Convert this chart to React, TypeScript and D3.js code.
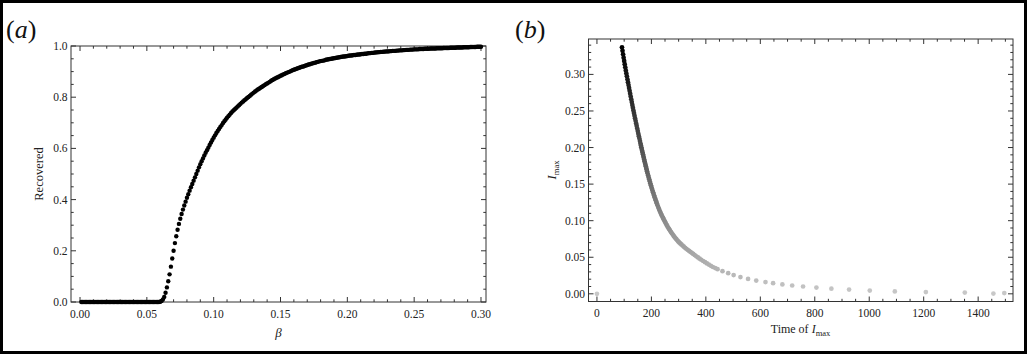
import React from 'react';
import * as d3 from 'd3';

// ---- panel (a): recovered fraction vs beta (beta = 0.001 ... 0.300, step 0.001)
const betaStep = 0.001;
const recovered = [
  0, 0, 0, 0, 0, 0, 0, 0, 0, 0,
  0, 0, 0, 0, 0, 0, 0, 0, 0, 0,
  0, 0, 0, 0, 0, 0, 0, 0, 0, 0,
  0, 0, 0, 0, 0, 0, 0, 0, 0, 0,
  0, 0, 0, 0, 0, 0, 0, 0, 0, 0,
  0, 0, 0, 0, 0, 0, 0, 0, 0, 0.001,
  0.004, 0.010, 0.020, 0.036, 0.057, 0.081, 0.108, 0.138, 0.170, 0.200,
  0.230, 0.257, 0.282, 0.305, 0.325, 0.344, 0.361, 0.377, 0.392, 0.407,
  0.421, 0.435, 0.448, 0.461, 0.474, 0.487, 0.500, 0.513, 0.526, 0.538,
  0.550, 0.561, 0.572, 0.583, 0.593, 0.603, 0.613, 0.623, 0.633, 0.642,
  0.651, 0.660, 0.668, 0.676, 0.684, 0.691, 0.699, 0.706, 0.713, 0.720,
  0.726, 0.732, 0.738, 0.744, 0.749, 0.754, 0.759, 0.764, 0.769, 0.774,
  0.779, 0.783, 0.788, 0.792, 0.797, 0.801, 0.805, 0.810, 0.814, 0.818,
  0.822, 0.826, 0.830, 0.833, 0.837, 0.840, 0.844, 0.847, 0.851, 0.854,
  0.857, 0.860, 0.864, 0.867, 0.870, 0.873, 0.876, 0.878, 0.881, 0.884,
  0.886, 0.889, 0.891, 0.894, 0.896, 0.898, 0.900, 0.903, 0.905, 0.907,
  0.909, 0.911, 0.913, 0.915, 0.917, 0.919, 0.920, 0.922, 0.924, 0.926,
  0.928, 0.929, 0.931, 0.932, 0.934, 0.935, 0.937, 0.938, 0.940, 0.941,
  0.942, 0.943, 0.944, 0.946, 0.947, 0.948, 0.949, 0.950, 0.951, 0.952,
  0.953, 0.954, 0.955, 0.956, 0.957, 0.958, 0.959, 0.959, 0.960, 0.961,
  0.962, 0.963, 0.963, 0.964, 0.965, 0.965, 0.966, 0.967, 0.967, 0.968,
  0.969, 0.969, 0.970, 0.970, 0.971, 0.972, 0.972, 0.973, 0.973, 0.974,
  0.975, 0.975, 0.976, 0.976, 0.977, 0.977, 0.978, 0.978, 0.979, 0.979,
  0.979, 0.980, 0.980, 0.981, 0.981, 0.981, 0.982, 0.982, 0.983, 0.983,
  0.983, 0.984, 0.984, 0.985, 0.985, 0.985, 0.986, 0.986, 0.986, 0.987,
  0.987, 0.987, 0.987, 0.988, 0.988, 0.988, 0.988, 0.989, 0.989, 0.989,
  0.989, 0.990, 0.990, 0.990, 0.990, 0.990, 0.991, 0.991, 0.991, 0.991,
  0.991, 0.992, 0.992, 0.992, 0.992, 0.992, 0.993, 0.993, 0.993, 0.993,
  0.993, 0.994, 0.994, 0.994, 0.994, 0.994, 0.995, 0.995, 0.995, 0.995,
  0.995, 0.996, 0.996, 0.996, 0.996, 0.996, 0.997, 0.997, 0.997, 0.997,
];
const betaTicks = [0, 0.05, 0.1, 0.15, 0.2, 0.25, 0.3];
const recTicks = [0, 0.2, 0.4, 0.6, 0.8, 1.0];

// ---- panel (b): peak infected vs time of the peak
const peakTime = [
  92, 94, 96, 98, 100, 102, 104, 106, 108, 110,
  112, 114, 116, 118, 120, 122, 124, 126, 128, 130,
  132, 134, 136, 138, 140, 142, 144, 146, 148, 150,
  152, 154, 156, 158, 160, 161.5, 163, 164.5, 166, 167.5,
  169, 170.5, 172, 173.5, 175, 176.5, 178, 179.5, 181, 182.5,
  184, 186, 188, 190, 192, 194, 196, 198, 200, 202,
  204, 206, 208, 210, 212, 214, 216, 218, 220, 222.5,
  225, 227.5, 230, 232.5, 235, 237.5, 240, 242.5, 245, 247.5,
  250, 253, 256, 259, 262, 265, 268, 271.5, 275, 278.5,
  282, 285, 288, 291.5, 295, 298.5, 302, 306, 310, 314.5,
  319, 323.5, 328, 333, 338, 343, 348, 353.5, 359, 365,
  371, 377, 383, 390, 397, 404, 411, 418.5, 426, 434.5,
  443, 461, 482, 502, 527, 555, 585, 619, 647, 681,
  717, 757, 806, 861, 926, 1002, 1094, 1208, 1351, 1456,
  1496, 0,
];
const peakI = [
  0.3370, 0.3322, 0.3275, 0.3229, 0.3184, 0.3140, 0.3097, 0.3055, 0.3014, 0.2974,
  0.2934, 0.2894, 0.2854, 0.2815, 0.2776, 0.2737, 0.2698, 0.2659, 0.2621, 0.2583,
  0.2545, 0.2508, 0.2471, 0.2435, 0.2400, 0.2365, 0.2330, 0.2295, 0.2260, 0.2225,
  0.2190, 0.2156, 0.2122, 0.2088, 0.2054, 0.2029, 0.2004, 0.1979, 0.1955, 0.1931,
  0.1907, 0.1883, 0.1859, 0.1835, 0.1812, 0.1789, 0.1766, 0.1743, 0.1721, 0.1699,
  0.1677, 0.1648, 0.1620, 0.1592, 0.1565, 0.1538, 0.1512, 0.1486, 0.1461, 0.1436,
  0.1412, 0.1389, 0.1366, 0.1343, 0.1321, 0.1299, 0.1278, 0.1257, 0.1236, 0.1211,
  0.1186, 0.1162, 0.1139, 0.1117, 0.1096, 0.1076, 0.1057, 0.1039, 0.1021, 0.1002,
  0.0984, 0.0963, 0.0942, 0.0922, 0.0903, 0.0885, 0.0867, 0.0847, 0.0828, 0.0810,
  0.0792, 0.0777, 0.0763, 0.0747, 0.0732, 0.0717, 0.0703, 0.0689, 0.0676, 0.0660,
  0.0645, 0.0630, 0.0616, 0.0602, 0.0588, 0.0574, 0.0561, 0.0545, 0.0530, 0.0513,
  0.0497, 0.0481, 0.0466, 0.0449, 0.0432, 0.0416, 0.0400, 0.0383, 0.0367, 0.0352,
  0.0337, 0.0310, 0.0282, 0.0256, 0.0229, 0.0204, 0.0181, 0.0160, 0.0145, 0.0128,
  0.0114, 0.0100, 0.0085, 0.0071, 0.0058, 0.0045, 0.0033, 0.0024, 0.0017, 0.0003,
  0.0010, 0,
];
const timeTicks = [0, 200, 400, 600, 800, 1000, 1200, 1400];
const iTicks = [0, 0.05, 0.1, 0.15, 0.2, 0.25, 0.3];

const FONT = '"Liberation Serif", "Times New Roman", serif';
const FRAME = '#333';

// framed plot with inward ticks on all four sides
function Frame({ x, y, xTicks, xMinor, yTicks, yMinor, fx, fy }) {
  const [x0, x1] = x.range();
  const [y0, y1] = y.range(); // y0 bottom, y1 top
  const major = 5;
  const minor = 2.7;
  const lines = [];
  const tick = (v, len, key) => {
    const px = x(v);
    lines.push(<line key={`b${key}`} x1={px} x2={px} y1={y0} y2={y0 - len} />);
    lines.push(<line key={`t${key}`} x1={px} x2={px} y1={y1} y2={y1 + len} />);
  };
  const ytick = (v, len, key) => {
    const py = y(v);
    lines.push(<line key={`l${key}`} x1={x0} x2={x0 + len} y1={py} y2={py} />);
    lines.push(<line key={`r${key}`} x1={x1} x2={x1 - len} y1={py} y2={py} />);
  };
  xMinor.forEach((v, i) => tick(v, minor, `xm${i}`));
  xTicks.forEach((v, i) => tick(v, major, `xM${i}`));
  yMinor.forEach((v, i) => ytick(v, minor, `ym${i}`));
  yTicks.forEach((v, i) => ytick(v, major, `yM${i}`));
  return (
    <g>
      <g stroke={FRAME} strokeWidth={1}>{lines}</g>
      <rect x={x0} y={y1} width={x1 - x0} height={y0 - y1} fill="none" stroke={FRAME} strokeWidth={1} />
      <g fontFamily={FONT} fontSize={11.5} fill="#222">
        {xTicks.map((v) => (
          <text key={`xl${v}`} x={x(v)} y={y0 + 15.5} textAnchor="middle">{fx(v)}</text>
        ))}
        {yTicks.map((v) => (
          <text key={`yl${v}`} x={x0 - 3.5} y={y(v) + 4} textAnchor="end">{fy(v)}</text>
        ))}
      </g>
    </g>
  );
}

export default function App() {
  const xa = d3.scaleLinear().domain([-0.00675, 0.30375]).range([71, 486]);
  const ya = d3.scaleLinear().domain([0, 1]).range([302, 46]);
  const xb = d3.scaleLinear().domain([-31, 1528]).range([588.5, 1013]);
  const yb = d3.scaleLinear().domain([-0.0105, 0.3484]).range([301.5, 39]);

  const betas = recovered.map((_, i) => +((i + 1) * betaStep).toFixed(3));
  const shade = d3.scaleLinear<string>().domain([0, 0.337]).range(['#c8c8c8', '#000000']);

  const aMinorX = d3.range(0, 0.3001, 0.01).filter((v) => Math.abs(v * 20 - Math.round(v * 20)) > 1e-6);
  const aMinorY = d3.range(0, 1.0001, 0.05).filter((v) => Math.abs(v * 5 - Math.round(v * 5)) > 1e-6);
  const bMinorX = d3.range(0, 1501, 50).filter((v) => v % 200 !== 0);
  const bMinorY = d3.range(0, 0.3401, 0.01).filter((v) => Math.abs(v * 20 - Math.round(v * 20)) > 1e-6);

  const bPoints = peakTime.map((t, i) => ({ t, v: peakI[i] }));

  return (
    <svg
      width={1027}
      height={354}
      style={{ position: 'absolute', left: 0, top: 0, background: '#fff' }}
      fontFamily={FONT}
    >
      <rect x={0} y={0} width={1027} height={354} fill="#fff" />

      {/* (a) */}
      <text x={6} y={38} fontSize={26} fill="#111">
        (<tspan fontStyle="italic">a</tspan>)
      </text>
      <Frame
        x={xa} y={ya}
        xTicks={betaTicks} xMinor={aMinorX}
        yTicks={recTicks} yMinor={aMinorY}
        fx={d3.format('.2f')} fy={d3.format('.1f')}
      />
      <g fill="#000">
        {recovered.map((r, i) => (
          <circle key={i} cx={xa(betas[i])} cy={ya(r)} r={2.2} />
        ))}
      </g>
      <text x={278.5} y={337} fontSize={13} textAnchor="middle" fontStyle="italic" fill="#222">β</text>
      <text transform="translate(43,174) rotate(-90)" fontSize={12.5} textAnchor="middle" fill="#222">Recovered</text>

      {/* (b) */}
      <text x={515} y={38} fontSize={26} fill="#111">
        (<tspan fontStyle="italic">b</tspan>)
      </text>
      <Frame
        x={xb} y={yb}
        xTicks={timeTicks} xMinor={bMinorX}
        yTicks={iTicks} yMinor={bMinorY}
        fx={d3.format('d')} fy={d3.format('.2f')}
      />
      <g>
        {bPoints.slice().reverse().map((p, i) => (
          <circle key={i} cx={xb(p.t)} cy={yb(p.v)} r={2.35} fill={shade(p.v)} />
        ))}
      </g>
      <text x={800.5} y={333} fontSize={12} textAnchor="middle" fill="#222">
        Time of <tspan fontStyle="italic">I</tspan>
        <tspan fontSize={8.5} dy={2.5}>max</tspan>
      </text>
      <text transform="translate(556,170) rotate(-90)" fontSize={12.5} textAnchor="middle" fill="#222">
        <tspan fontStyle="italic">I</tspan>
        <tspan fontSize={8.5} dy={2.5}>max</tspan>
      </text>

      <rect x={1.5} y={1.5} width={1024} height={351} fill="none" stroke="#000" strokeWidth={3} />
    </svg>
  );
}
